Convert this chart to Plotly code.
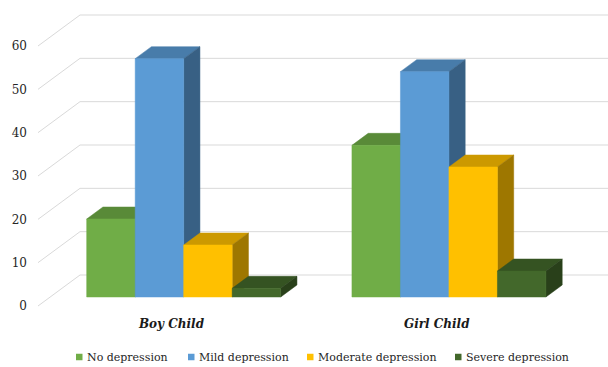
import plotly.graph_objects as go

# ---------------- data ----------------
categories = ["Boy Child", "Girl Child"]
series_names = ["No depression", "Mild depression", "Moderate depression", "Severe depression"]
boy_values = [18, 55, 12, 2]
girl_values = [35, 52, 30, 6]
y_ticks = [0, 10, 20, 30, 40, 50, 60]
front_colors = ["#70AD47", "#5B9BD5", "#FFC000", "#43682B"]

values_by_series = [[boy_values[s], girl_values[s]] for s in range(len(series_names))]

SERIF = "DejaVu Serif"

# ---------------- geometry (layout) ----------------
W, H = 608, 367
ML, MR, MT, MB = 37, 0, 10, 57
plot_w = W - ML - MR
plot_h = H - MT - MB
px_per_cat = 265.25
px_per_unit = 4.3333
cat0_px = 171.5
zero_px = 306
x_range = [(ML - cat0_px) / px_per_cat, (W - MR - cat0_px) / px_per_cat]
y_range = [(zero_px - (H - MB)) / px_per_unit, (zero_px - MT) / px_per_unit]

DX = 42 / px_per_cat          # depth shift (x) from front plane to back wall
DY = 31 / px_per_unit         # depth shift (y)
d_front, d_back = 9 / 31, 21 / 31
bar_w = 48.5 / px_per_cat
x_left = (38 - cat0_px) / px_per_cat


def shade(hex_color, f):
    h = hex_color.lstrip("#")
    r, g, b = (int(h[i:i + 2], 16) for i in (0, 2, 4))
    return "#%02X%02X%02X" % (int(r * f), int(g * f), int(b * f))


fig = go.Figure()

# gridlines: side wall diagonals + back wall horizontals
gx, gy = [], []
for v in y_ticks:
    gx += [x_left, x_left + DX, x_range[1] + 1, None]
    gy += [v, v + DY, v + DY, None]
fig.add_trace(go.Scatter(x=gx, y=gy, mode="lines", line=dict(color="#D9D9D9", width=1),
                         hoverinfo="skip", showlegend=False))

e = d_back - d_front
for s, name in enumerate(series_names):
    fc = front_colors[s]
    tops_x, tops_y, sides_x, sides_y, fr_x, fr_y = [], [], [], [], [], []
    for i, v in enumerate(values_by_series[s]):
        x0 = i - 2 * bar_w + s * bar_w + d_front * DX
        x1 = x0 + bar_w
        y0 = d_front * DY
        y1 = v + d_front * DY
        tops_x += [x0, x1, x1 + e * DX, x0 + e * DX, x0, None]
        tops_y += [y1, y1, y1 + e * DY, y1 + e * DY, y1, None]
        sides_x += [x1, x1 + e * DX, x1 + e * DX, x1, x1, None]
        sides_y += [y0, y0 + e * DY, y1 + e * DY, y1, y0, None]
        fr_x += [x0, x1, x1, x0, x0, None]
        fr_y += [y0, y0, y1, y1, y0, None]
    for xs, ys, col in ((tops_x, tops_y, shade(fc, 0.80)),
                        (sides_x, sides_y, shade(fc, 0.62))):
        fig.add_trace(go.Scatter(x=xs, y=ys, mode="lines", fill="toself", fillcolor=col,
                                 line=dict(color=col, width=0.5), hoverinfo="skip",
                                 showlegend=False))
    fig.add_trace(go.Scatter(x=fr_x, y=fr_y, mode="lines", fill="toself", fillcolor=fc,
                             line=dict(color=fc, width=0.5), name=name, hoveron="fills",
                             hoverinfo="name", showlegend=False))

# ---------------- legend (drawn as annotations) ----------------
legend_sq_px = [76, 188, 307, 455]
legend_y_px = 357


def paper_x(px):
    return (px - ML) / plot_w


def paper_y(py):
    return (H - MB - py) / plot_h


shapes, annotations = [], []
for s, name in enumerate(series_names):
    sx = legend_sq_px[s]
    shapes.append(dict(type="rect", xref="paper", yref="paper",
                       x0=paper_x(sx), x1=paper_x(sx + 6.5),
                       y0=paper_y(legend_y_px + 3.25), y1=paper_y(legend_y_px - 3.25),
                       fillcolor=front_colors[s], line=dict(width=0)))
    annotations.append(dict(text=name, xref="paper", yref="paper",
                            x=paper_x(sx + 8.5), y=paper_y(legend_y_px),
                            xanchor="left", yanchor="middle", showarrow=False,
                            font=dict(family=SERIF, size=11, color="#262626")))

fig.update_layout(
    width=W, height=H,
    margin=dict(l=ML, r=MR, t=MT, b=MB),
    paper_bgcolor="white", plot_bgcolor="white",
    showlegend=False,
    font=dict(family=SERIF),
    xaxis=dict(range=x_range, tickvals=list(range(len(categories))),
               ticktext=["<b><i>%s</i></b>" % c for c in categories],
               showgrid=False, zeroline=False, showline=False, ticks="",
               ticklabelstandoff=5,
               tickfont=dict(family=SERIF, size=12, color="#1a1a1a")),
    yaxis=dict(range=y_range, tickvals=y_ticks, showgrid=False, zeroline=False,
               showline=False, ticks="", ticklabelstandoff=9,
               tickfont=dict(family=SERIF, size=12, color="#262626")),
    shapes=shapes,
    annotations=annotations,
)

fig.write_html("out.html")
